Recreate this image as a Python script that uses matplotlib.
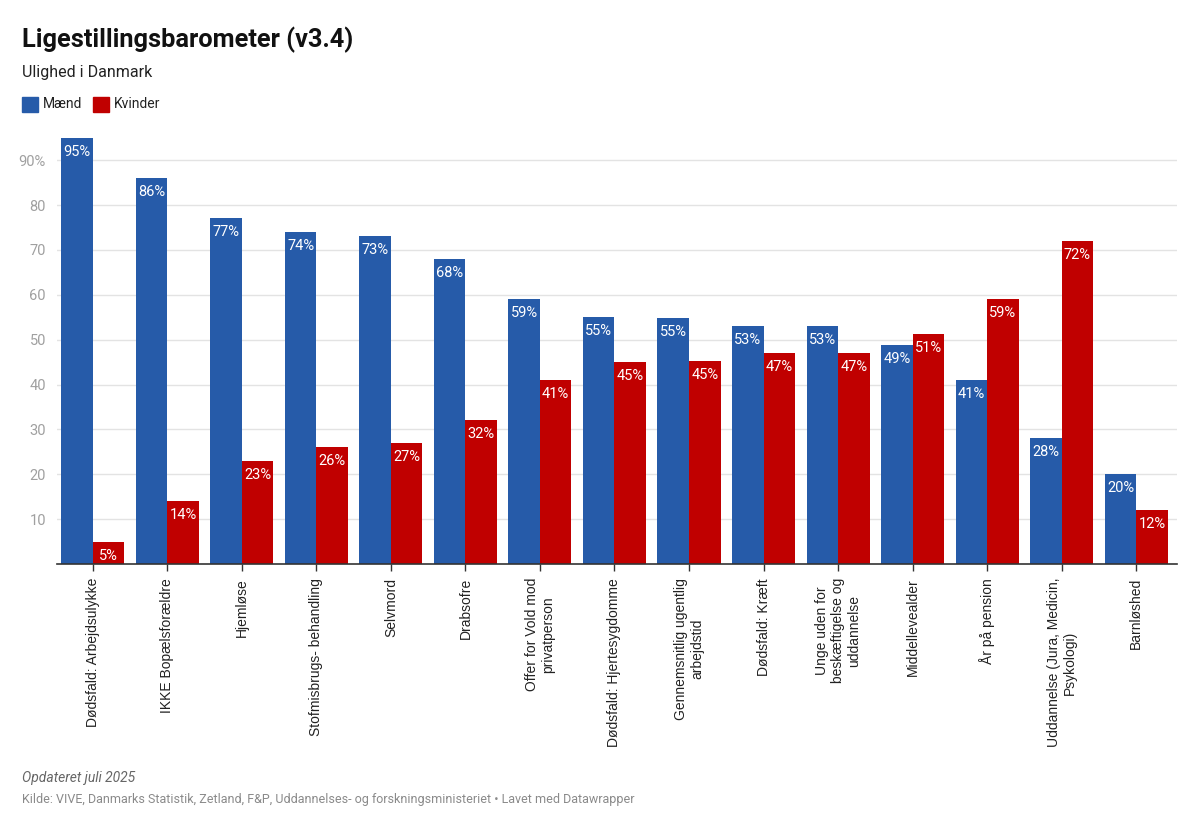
import numpy as np
import matplotlib.pyplot as plt
from matplotlib.patches import Rectangle

categories = [
    "Dødsfald: Arbejdsulykke",
    "IKKE Bopælsforældre",
    "Hjemløse",
    "Stofmisbrugs- behandling",
    "Selvmord",
    "Drabsofre",
    "Offer for Vold mod\nprivatperson",
    "Dødsfald: Hjertesygdomme",
    "Gennemsnitlig ugentlig\narbejdstid",
    "Dødsfald: Kræft",
    "Unge uden for\nbeskæftigelse og\nuddannelse",
    "Middellevealder",
    "År på pension",
    "Uddannelse (Jura, Medicin,\nPsykologi)",
    "Barnløshed",
]
maend = [95, 86, 77, 74, 73, 68, 59, 55, 54.8, 53, 53, 48.8, 41, 28, 20]
kvinder = [5, 14, 23, 26, 27, 32, 41, 45, 45.3, 47, 47, 51.3, 59, 72, 12]
yticks = [10, 20, 30, 40, 50, 60, 70, 80, 90]

BLUE = "#265ba9"
RED = "#c00000"
GREY = "#a0a0a0"

plt.rcParams['font.family'] = ['Roboto', 'DejaVu Sans']

fig = plt.figure(figsize=(12, 8.32), dpi=100)
ax = fig.add_axes([0.0475, 0.3221, 0.9335, 0.5178])

x = np.arange(len(categories))
w = 0.423
b1 = ax.bar(x - w / 2, maend, width=w, color=BLUE, zorder=2)
b2 = ax.bar(x + w / 2, kvinder, width=w, color=RED, zorder=2)

# value labels inside the top of each bar
for bars, vals in ((b1, maend), (b2, kvinder)):
    for bar, v in zip(bars, vals):
        ax.annotate("%d%%" % round(v), (bar.get_x() + bar.get_width() / 2, v),
                    xytext=(0, -7), textcoords="offset pixels",
                    ha="center", va="top", color="white", fontsize=10.5, zorder=3)

ax.set_xlim(-0.48, 14.55)
ax.set_ylim(0, 96)
ax.set_yticks(yticks)
ax.set_yticklabels([str(t) if t != 90 else "90%" for t in yticks])
ax.tick_params(axis="y", length=0, labelsize=10.5, labelcolor=GREY, pad=8)
ax.yaxis.grid(True, color="#e3e3e3", linewidth=1, zorder=0)

ax.set_xticks(x)
ax.set_xticklabels(categories, rotation=90, ha="center", va="top",
                   multialignment="center", family=["Liberation Sans", "DejaVu Sans"],
                   fontsize=10, color="#222222")
ax.tick_params(axis="x", length=5, width=1, color="#333333", pad=5)

for s in ["top", "right", "left"]:
    ax.spines[s].set_visible(False)
ax.spines["bottom"].set_color("#333333")
ax.spines["bottom"].set_linewidth(1.2)

fig.text(22 / 1200, 1 - 40 / 832, "Ligestillingsbarometer (v3.4)", fontsize=18.3,
         fontweight="bold", va="center", ha="left", color="#111111")
fig.text(22 / 1200, 1 - 73 / 832, "Ulighed i Danmark", fontsize=11.5,
         va="center", ha="left", color="#222222")

# legend
fig.patches.append(Rectangle((22 / 1200, 1 - 112 / 832), 16 / 1200, 15 / 832,
                             transform=fig.transFigure, color=BLUE))
fig.text(43 / 1200, 1 - 104.5 / 832, "Mænd", fontsize=10, va="center", color="#222222")
fig.patches.append(Rectangle((93 / 1200, 1 - 112 / 832), 16 / 1200, 15 / 832,
                             transform=fig.transFigure, color=RED))
fig.text(114 / 1200, 1 - 104.5 / 832, "Kvinder", fontsize=10, va="center", color="#222222")

fig.text(22 / 1200, 1 - 778 / 832, "Opdateret juli 2025", fontsize=10, style="italic",
         va="center", color="#666666")
fig.text(22 / 1200, 1 - 800 / 832,
         "Kilde: VIVE, Danmarks Statistik, Zetland, F&P, Uddannelses- og forskningsministeriet • Lavet med Datawrapper",
         fontsize=9, va="center", color="#8a8a8a")

fig.savefig("out.png", dpi=100, facecolor="white")
